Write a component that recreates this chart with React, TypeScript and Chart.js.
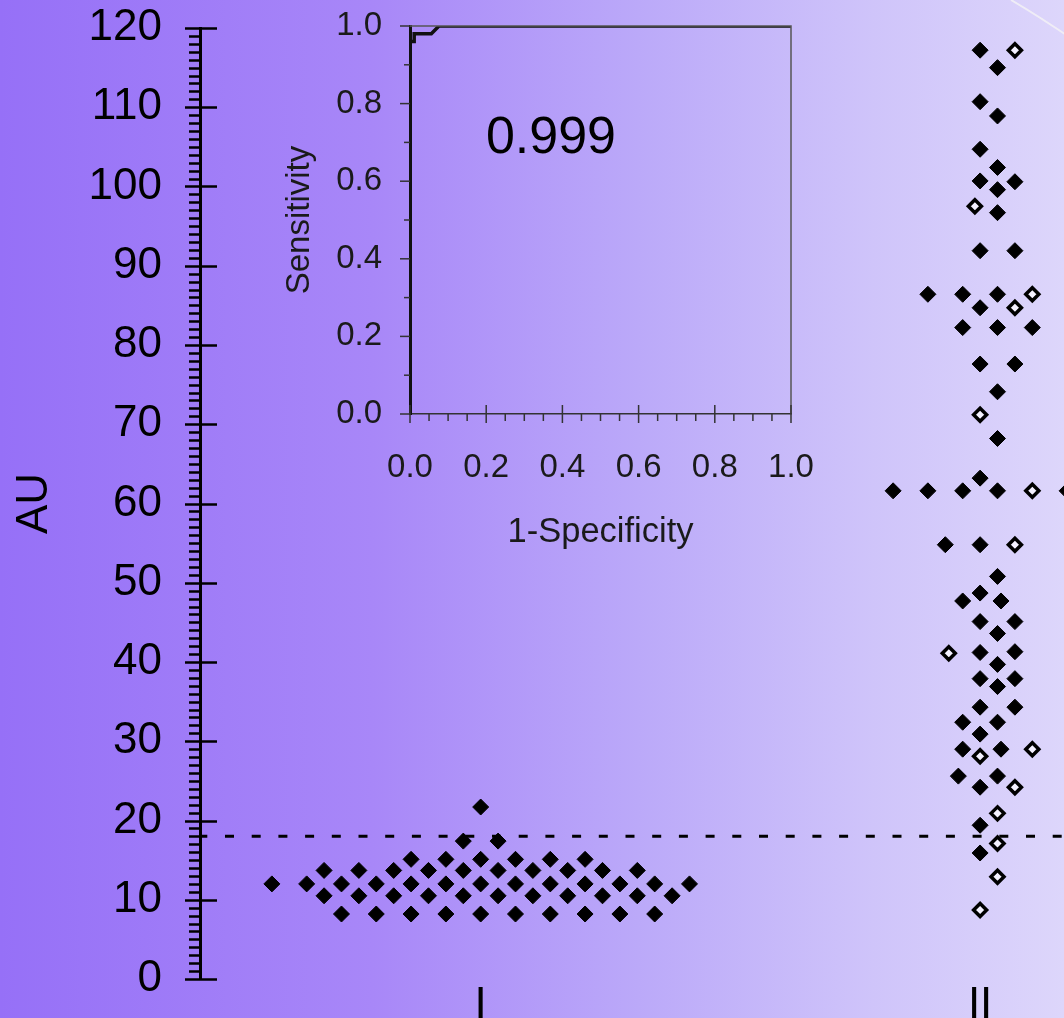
import React, { useEffect, useRef } from 'react';
import { Chart, registerables } from 'chart.js';

Chart.register(...registerables);

const FONT = "'Liberation Sans', Arial, Helvetica, sans-serif";

// ---- main plot data ----
const groupLabels = ['I', 'II'];
const groupCenters = [0, 28.7]; // column units (one unit = half a diamond step)
const cutoffValue = 18;
const yMin = 0;
const yMax = 120;
const yMajorStep = 10;
const yMinorStep = 1;
const xRange = [-16.13, 35.59];

const groupIRowValues = [21.7, 17.4, 15.1, 13.7, 12.0, 10.5, 8.2];
const groupIRowColumns = [
  [0],
  [-1, 1],
  [-4, -2, 0, 2, 4, 6],
  [-9, -7, -5, -3, -1, 1, 3, 5, 7, 9],
  [-12, -10, -8, -6, -4, -2, 0, 2, 4, 6, 8, 10, 12],
  [-9, -7, -5, -3, -1, 1, 3, 5, 7, 9, 11],
  [-8, -6, -4, -2, 0, 2, 4, 6, 8, 10],
];

const groupIIFilledValues = [
  117.2, 115.0, 110.7, 108.9, 104.7, 102.4, 100.7, 100.6, 99.6, 96.7,
  91.9, 91.9, 86.4, 86.4, 86.4, 84.7, 82.2, 82.2, 82.2, 77.6,
  77.6, 74.1, 68.2, 61.6, 61.6, 61.6, 63.2, 61.6, 61.6, 54.8,
  54.8, 50.8, 48.7, 47.7, 47.7, 45.1, 45.1, 43.6, 41.2, 41.3,
  39.7, 37.9, 37.9, 36.9, 34.3, 34.3, 32.4, 32.4, 30.9, 29.0,
  29.0, 25.6, 25.6, 24.2, 19.4, 15.9,
];
const groupIIFilledColumns = [
  0, 1, 0, 1, 0, 1, 0, 2, 1, 1,
  0, 2, -3, -1, 1, 0, -1, 1, 3, 0,
  2, 1, 1, -5, -3, -1, 0, 1, 5, -2,
  0, 1, 0, -1, 1.2, 0, 2, 1, 0, 2,
  1, 0, 2, 1, 0, 2, -1, 1, 0, -1,
  1.2, -1.25, 1, 0, 0, 0,
];
const groupIIOpenValues = [117.2, 97.5, 86.4, 84.7, 71.2, 61.6, 54.8, 41.1, 29.0, 28.1, 24.2, 20.9, 17.1, 12.9, 8.7];
const groupIIOpenColumns = [2, -0.3, 3, 2, 0, 3, 2, -1.8, 3, 0, 2, 1, 1, 1, 0];

// ---- inset ROC data ----
const rocFpr = [0, 0, 0.011, 0.011, 0.056, 0.076, 1];
const rocTpr = [0, 0.96, 0.96, 0.98, 0.98, 1, 1];
const aucText = '0.999';
const aucPosition = { x: 0.37, y: 0.71 };

const noPad = (scale: any) => {
  scale.paddingTop = 0;
  scale.paddingBottom = 0;
  scale.paddingLeft = 0;
  scale.paddingRight = 0;
};

const mainTicksPlugin = {
  id: 'mainTicks',
  afterDraw(chart: any) {
    const ys = chart.scales.y;
    const left = chart.chartArea.left;
    const ctx = chart.ctx;
    ctx.save();
    ctx.strokeStyle = '#000';
    ctx.lineWidth = 2.5;
    for (let v = yMin; v <= yMax; v += yMinorStep) {
      const py = Math.round(ys.getPixelForValue(v)) + 0.5;
      ctx.beginPath();
      if (v % yMajorStep === 0) {
        ctx.moveTo(left - 15, py);
        ctx.lineTo(left + 17, py);
      } else {
        ctx.moveTo(left - 11, py);
        ctx.lineTo(left, py);
      }
      ctx.stroke();
    }
    // decorative slide arc in top-right corner
    ctx.strokeStyle = 'rgba(240,238,246,0.95)';
    ctx.lineWidth = 2;
    ctx.beginPath();
    ctx.moveTo(1011, 0);
    ctx.quadraticCurveTo(1040, 17, 1075, 41);
    ctx.stroke();
    ctx.restore();
  },
};

const insetPlugin = {
  id: 'insetDecor',
  afterDraw(chart: any) {
    const { ctx, chartArea } = chart;
    const xs = chart.scales.x;
    const ys = chart.scales.y;
    ctx.save();
    ctx.strokeStyle = '#555';
    ctx.lineWidth = 1.5;
    ctx.beginPath();
    ctx.moveTo(chartArea.left, chartArea.top);
    ctx.lineTo(chartArea.right, chartArea.top);
    ctx.lineTo(chartArea.right, chartArea.bottom);
    ctx.stroke();
    ctx.strokeStyle = '#333';
    for (let i = 0; i <= 10; i++) {
      const py = ys.getPixelForValue(i / 10);
      ctx.beginPath();
      ctx.moveTo(chartArea.left - (i % 2 === 0 ? 10 : 6), py);
      ctx.lineTo(chartArea.left, py);
      ctx.stroke();
    }
    for (let i = 0; i <= 20; i++) {
      const px = xs.getPixelForValue(i / 20);
      ctx.beginPath();
      if (i % 4 === 0) {
        ctx.moveTo(px, chartArea.bottom - 9);
        ctx.lineTo(px, chartArea.bottom + 9);
      } else {
        ctx.moveTo(px, chartArea.bottom);
        ctx.lineTo(px, chartArea.bottom + 7);
      }
      ctx.stroke();
    }
    ctx.fillStyle = '#000';
    ctx.font = `52px ${FONT}`;
    ctx.textAlign = 'center';
    ctx.textBaseline = 'middle';
    ctx.fillText(aucText, xs.getPixelForValue(aucPosition.x), ys.getPixelForValue(aucPosition.y));
    ctx.restore();
  },
};

export default function App() {
  const mainRef = useRef<HTMLCanvasElement>(null);
  const insetRef = useRef<HTMLCanvasElement>(null);

  useEffect(() => {
    const groupIPoints: { x: number; y: number }[] = [];
    groupIRowValues.forEach((v, r) => {
      groupIRowColumns[r].forEach((c) => groupIPoints.push({ x: groupCenters[0] + c, y: v }));
    });
    const groupIIFilled = groupIIFilledValues.map((v, i) => ({ x: groupCenters[1] + groupIIFilledColumns[i], y: v }));
    const groupIIOpen = groupIIOpenValues.map((v, i) => ({ x: groupCenters[1] + groupIIOpenColumns[i], y: v }));

    const main = new Chart(mainRef.current as HTMLCanvasElement, {
      type: 'scatter',
      data: {
        datasets: [
          {
            type: 'line',
            label: 'cutoff',
            data: [
              { x: xRange[0], y: cutoffValue },
              { x: xRange[1], y: cutoffValue },
            ],
            borderColor: '#000',
            borderWidth: 3,
            borderDash: [9, 17.7],
            borderDashOffset: 1.7,
            pointRadius: 0,
            fill: false,
          } as any,
          {
            label: 'I',
            data: groupIPoints,
            pointStyle: 'rectRot',
            pointRadius: 8,
            backgroundColor: '#000',
            borderColor: '#000',
            borderWidth: 1,
          },
          {
            label: 'II filled',
            data: groupIIFilled,
            pointStyle: 'rectRot',
            pointRadius: 8,
            backgroundColor: '#000',
            borderColor: '#000',
            borderWidth: 1,
          },
          {
            label: 'II open',
            data: groupIIOpen,
            pointStyle: 'rectRot',
            pointRadius: 6.5,
            backgroundColor: 'rgba(245,242,255,0.95)',
            borderColor: '#000',
            borderWidth: 3.5,
          },
        ],
      },
      options: {
        animation: false,
        responsive: false,
        devicePixelRatio: 1,
        layout: { padding: { top: 28, right: 20, bottom: 0, left: 0 } },
        plugins: { legend: { display: false }, tooltip: { enabled: false } },
        scales: {
          x: {
            type: 'linear',
            min: xRange[0],
            max: xRange[1],
            afterBuildTicks: (scale: any) => {
              scale.ticks = groupCenters.map((v) => ({ value: v }));
            },
            afterFit: (scale: any) => {
              scale.height = 101;
              noPad(scale);
            },
            ticks: {
              autoSkip: false,
              maxRotation: 0,
              padding: 0,
              color: '#000',
              font: { family: FONT, size: 44 },
              callback: (_v: any, i: number) => groupLabels[i],
            },
            grid: { display: false, drawTicks: false },
            border: { display: false },
          },
          y: {
            type: 'linear',
            min: yMin,
            max: yMax,
            afterFit: (scale: any) => {
              scale.width = 200;
              noPad(scale);
            },
            ticks: {
              stepSize: yMajorStep,
              autoSkip: false,
              padding: 38,
              color: '#000',
              font: { family: FONT, size: 44 },
            },
            grid: { display: false, drawTicks: false },
            border: { display: true, color: '#000', width: 3 },
            title: {
              display: true,
              text: 'AU',
              color: '#000',
              font: { family: FONT, size: 44 },
              padding: { top: 8, bottom: 0 },
            },
          },
        },
      },
      plugins: [mainTicksPlugin],
    });

    const inset = new Chart(insetRef.current as HTMLCanvasElement, {
      type: 'line',
      data: {
        datasets: [
          {
            label: 'ROC',
            data: rocFpr.map((x, i) => ({ x, y: rocTpr[i] })),
            borderColor: '#111',
            borderWidth: 3.5,
            pointRadius: 0,
            tension: 0,
            fill: false,
          },
        ],
      },
      options: {
        animation: false,
        responsive: false,
        devicePixelRatio: 1,
        layout: { padding: { top: 26, right: 29, bottom: 0, left: 0 } },
        plugins: { legend: { display: false }, tooltip: { enabled: false } },
        scales: {
          x: {
            type: 'linear',
            min: 0,
            max: 1,
            afterFit: (scale: any) => {
              scale.height = 146;
              noPad(scale);
            },
            ticks: {
              stepSize: 0.2,
              padding: 34,
              color: '#1a1a1a',
              font: { family: FONT, size: 33 },
              callback: (v: any) => Number(v).toFixed(1),
            },
            grid: { display: false, drawTicks: false },
            border: { display: true, color: '#333', width: 1.5 },
            title: {
              display: true,
              text: '1-Specificity',
              color: '#1a1a1a',
              font: { family: FONT, size: 34.5 },
              padding: { top: 0, bottom: 7 },
            },
          },
          y: {
            type: 'linear',
            min: 0,
            max: 1,
            afterFit: (scale: any) => {
              scale.width = 130;
              noPad(scale);
            },
            ticks: {
              stepSize: 0.2,
              padding: 28,
              color: '#1a1a1a',
              font: { family: FONT, size: 33 },
              callback: (v: any) => Number(v).toFixed(1),
            },
            grid: { display: false, drawTicks: false },
            border: { display: true, color: '#111', width: 3 },
            title: {
              display: true,
              text: 'Sensitivity',
              color: '#1a1a1a',
              font: { family: FONT, size: 33 },
              padding: { top: 0, bottom: 0 },
            },
          },
        },
      },
      plugins: [insetPlugin],
    });

    return () => {
      main.destroy();
      inset.destroy();
    };
  }, []);

  return (
    <div
      style={{
        position: 'absolute',
        left: 0,
        top: 0,
        width: 1064,
        height: 1018,
        overflow: 'hidden',
        background: 'linear-gradient(to right, #9670f7 0%, #a887f8 35%, #bba9f9 60%, #cfc4fa 82%, #ddd6fb 100%)',
      }}
    >
      <canvas ref={mainRef} width={1120} height={1080} style={{ position: 'absolute', left: 0, top: 0, width: 1120, height: 1080, display: 'block' }} />
      <canvas ref={insetRef} width={540} height={560} style={{ position: 'absolute', left: 280, top: 0, width: 540, height: 560, display: 'block' }} />
    </div>
  );
}
